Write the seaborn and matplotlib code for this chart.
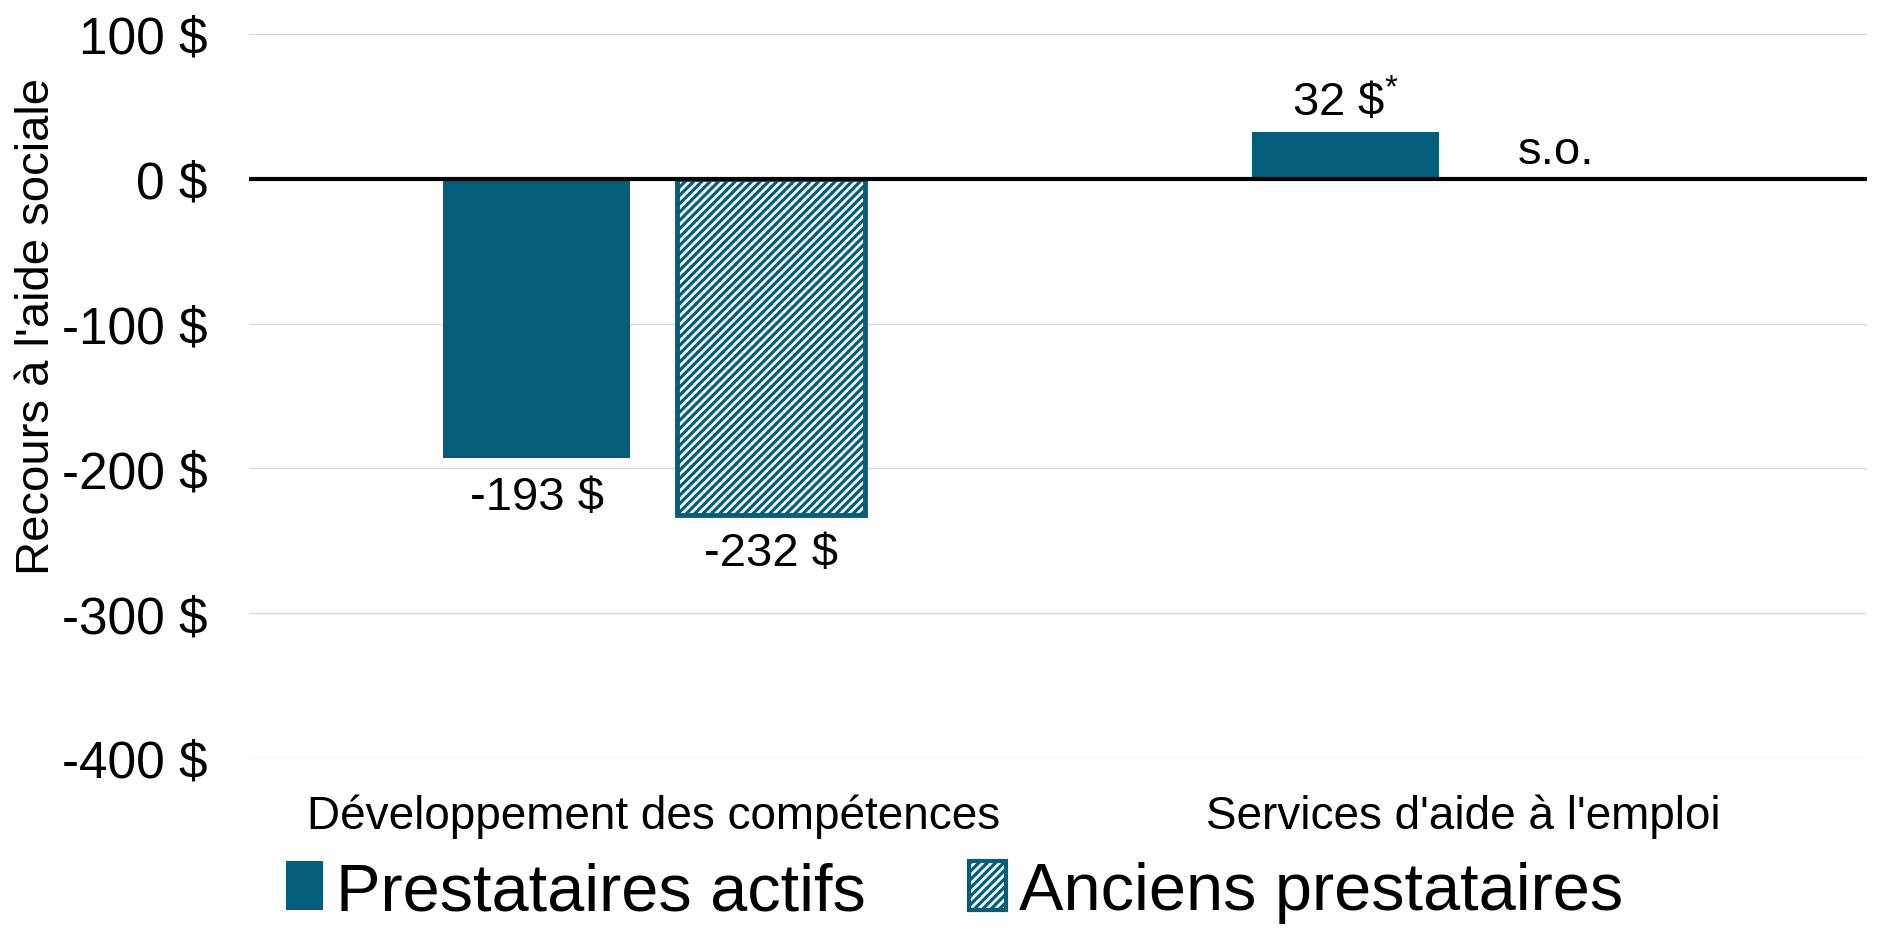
import matplotlib
matplotlib.use("Agg")
import matplotlib.pyplot as plt
import seaborn as sns
import pandas as pd
import numpy as np
from matplotlib.ticker import FuncFormatter
from matplotlib.patches import Patch

categories = ["Développement des compétences", "Services d'aide à l'emploi"]
series_names = ["Prestataires actifs", "Anciens prestataires"]
actifs = [-193, 32]
anciens = [-232, np.nan]
value_labels_actifs = ["-193 $", r"32 \$$^{*}$"]
value_labels_anciens = ["-232 $", "s.o."]
y_ticks = [100, 0, -100, -200, -300, -400]
y_label = "Recours à l'aide sociale"

TEAL = "#035E7B"

sns.set_theme(style="white")
plt.rcParams["font.family"] = ["Liberation Sans", "DejaVu Sans"]
plt.rcParams["mathtext.fontset"] = "custom"
plt.rcParams["mathtext.rm"] = "Liberation Sans"
plt.rcParams["mathtext.it"] = "Liberation Sans"
plt.rcParams["axes.unicode_minus"] = False
plt.rcParams["hatch.linewidth"] = 2.3
plt.rcParams["text.color"] = "black"
plt.rcParams["axes.labelcolor"] = "black"
plt.rcParams["xtick.color"] = "black"
plt.rcParams["ytick.color"] = "black"

df = pd.DataFrame({
    "cat": categories * 2,
    "serie": [series_names[0]] * 2 + [series_names[1]] * 2,
    "val": actifs + anciens,
})

fig = plt.figure(figsize=(18.9, 9.45), dpi=100)
ax = fig.add_axes([0.132, 0.197, 0.856, 0.766])

WIDTH = 0.58
sns.barplot(data=df, x="cat", y="val", hue="serie", order=categories,
            hue_order=series_names, palette=[TEAL, TEAL], width=WIDTH, gap=0.2,
            ax=ax, legend=False, errorbar=None, saturation=1)

for p in ax.containers[0]:
    p.set_facecolor(TEAL)
    p.set_edgecolor(TEAL)
    p.set_linewidth(0)
for p in ax.containers[1]:
    p.set_facecolor("white")
    p.set_edgecolor(TEAL)
    p.set_hatch("////")
    p.set_linewidth(3.5)

ax.set_ylim(-400, 100)
ax.set_yticks(y_ticks)
ax.yaxis.set_major_formatter(FuncFormatter(lambda v, _: f"{int(v)} $"))
ax.tick_params(axis="y", labelsize=37, length=0, pad=30)
ax.tick_params(axis="x", labelsize=33, length=0, pad=26)
ax.set_xlabel("")
ax.set_ylabel(y_label, fontsize=34)
ax.yaxis.set_label_coords(-0.118, 0.597)
ax.grid(axis="y", color="#D9D9D9", linewidth=1)
ax.set_axisbelow(True)
for s in ax.spines.values():
    s.set_visible(False)
ax.axhline(0, color="black", linewidth=3, zorder=5)

# value labels
offsets = [-WIDTH / 4, WIDTH / 4]
for i in range(len(categories)):
    for j, (vals, labs) in enumerate([(actifs, value_labels_actifs), (anciens, value_labels_anciens)]):
        h = vals[i]
        x = i + offsets[j]
        if np.isnan(h):
            ax.annotate(labs[i], (x - 0.03, 0), xytext=(0, 4), textcoords="offset points",
                        ha="center", va="bottom", fontsize=34)
        elif h < 0:
            ax.annotate(labs[i], (x, h), xytext=(0, -12), textcoords="offset points",
                        ha="center", va="top", fontsize=34)
        else:
            ax.annotate(labs[i], (x, h), xytext=(0, 5), textcoords="offset points",
                        ha="center", va="bottom", fontsize=34)

handles = [Patch(facecolor=TEAL, edgecolor=TEAL, linewidth=0),
           Patch(facecolor="white", edgecolor=TEAL, hatch="////", linewidth=3)]
fig.legend(handles, series_names, loc="center", bbox_to_anchor=(0.505, 0.055), ncol=2,
           frameon=False, fontsize=48, handlelength=0.55, handleheight=0.75,
           handletextpad=0.2, columnspacing=1.55)

fig.savefig("out.png", dpi=100, facecolor="white")
